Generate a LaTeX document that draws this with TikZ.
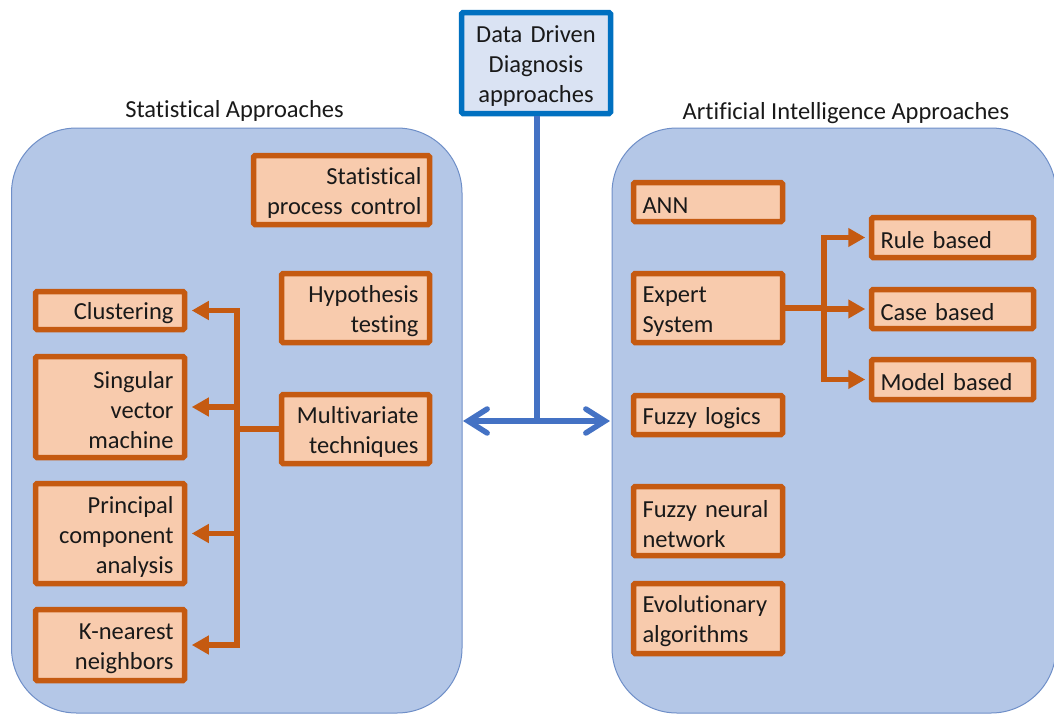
\documentclass[tikz,border=0pt]{standalone}
\usepackage{fontspec}
\setmainfont{Carlito}[Ligatures=NoCommon]
\usetikzlibrary{arrows.meta}
\definecolor{bigfill}{HTML}{B4C7E7}
\definecolor{bigdraw}{HTML}{6F8FC8}
\definecolor{ofill}{HTML}{F8CBAD}
\definecolor{odraw}{HTML}{C55A11}
\definecolor{tfill}{HTML}{DAE3F3}
\definecolor{tdraw}{HTML}{0070C0}
\definecolor{bline}{HTML}{4472C4}
\begin{document}
\begin{tikzpicture}[x=1pt,y=-1pt,
  txt/.style={font=\fontsize{24.5}{30}\selectfont, text=black!90},
  lowered/.style={execute at begin node={\rule{0pt}{23pt}}},
  bigbox/.style={fill=bigfill, draw=bigdraw, line width=1pt, rounded corners=65pt},
  obox/.style={txt, lowered, draw=odraw, fill=ofill, line width=5.5pt, rounded corners=1.5pt, inner sep=0pt},
  rbox/.style={obox, align=right},
  lbox/.style={obox, align=left},
  oline/.style={draw=odraw, line width=5.5pt},
  oarrow/.style={oline, -{Triangle[length=17pt,width=18pt]}},
  bluearrow/.style={draw=bline, line width=5.5pt, {Straight Barb[length=19pt,width=24pt,line cap=round]}-{Straight Barb[length=19pt,width=24pt,line cap=round]}}
]
\useasboundingbox (0,0) rectangle (1054,715);
% big containers
\path[bigbox] (11.5,128) rectangle (462,713);
\path[bigbox] (612,128) rectangle (1056,713);
% titles
\node[txt] (lt) at (234.5,111) {Statistical Approaches};
\node[txt] (rt) at (846,113) {Artificial Intelligence Approaches};
% top box
\node[txt, lowered, draw=tdraw, fill=tfill, line width=5.5pt, rounded corners=1.5pt, inner sep=0pt,
  minimum width=149pt, minimum height=101pt, text width=140pt, align=center] (top) at (536,63)
  {Data Driven\\Diagnosis\\approaches};
% left boxes
\node[rbox, minimum width=176pt, minimum height=69pt, text width=160pt] (spc) at (341.5,190) {Statistical\\process control};
\node[rbox, minimum width=148pt, minimum height=69pt, text width=126pt] (hyp) at (355.5,308) {Hypothesis\\testing};
\node[rbox, minimum width=148pt, minimum height=69pt, text width=126pt] (mvt) at (355.5,429) {Multivariate\\techniques};
\node[rbox, minimum width=149pt, minimum height=38pt, text width=127pt] (clu) at (110,310.5) {Clustering};
\node[rbox, minimum width=149pt, minimum height=101pt, text width=127pt] (svm) at (110,407) {Singular\\vector\\machine};
\node[rbox, minimum width=149pt, minimum height=100pt, text width=127pt] (pca) at (110,533.5) {Principal\\component\\analysis};
\node[rbox, minimum width=149pt, minimum height=71pt, text width=127pt] (knn) at (110,645) {K-nearest\\neighbors};
% right boxes
\node[lbox, minimum width=149pt, minimum height=39pt, text width=131pt] (ann) at (708,202) {ANN};
\node[lbox, minimum width=149pt, minimum height=69pt, text width=131pt] (exp) at (708,308) {Expert\\System};
\node[lbox, minimum width=149pt, minimum height=39pt, text width=131pt] (fzl) at (708,415) {Fuzzy logics};
\node[lbox, minimum width=149pt, minimum height=69pt, text width=131pt] (fnn) at (708,521) {Fuzzy neural\\network};
\node[lbox, minimum width=149pt, minimum height=70pt, text width=131pt] (evo) at (708,618.5) {Evolutionary\\algorithms};
\node[lbox, minimum width=162pt, minimum height=40pt, text width=144pt] (rule) at (952.5,237.5) {Rule based};
\node[lbox, minimum width=162pt, minimum height=39pt, text width=144pt] (case) at (952.5,309) {Case based};
\node[lbox, minimum width=162pt, minimum height=40pt, text width=144pt] (model) at (952.5,379.5) {Model based};
% blue connectors
\coordinate (hub) at (537,421);
\coordinate (la) at (463,421);
\coordinate (ra) at (610,421);
\draw[draw=bline, line width=5.5pt] (top.south -| hub) -- (hub);
\draw[bluearrow] (la) -- (ra);
% left orange connectors
\coordinate (ltrunk) at (237,0);
\draw[oline] (mvt.west) -- (mvt.west -| ltrunk);
\draw[oarrow] (ltrunk |- knn.east) -- (ltrunk |- clu.east) -- ([xshift=4.5pt]clu.east);
\draw[oarrow] (ltrunk |- clu.east) -- (ltrunk |- knn.east) -- ([xshift=4.5pt]knn.east);
\draw[oarrow] (ltrunk |- svm.east) -- ([xshift=4.5pt]svm.east);
\draw[oarrow] (ltrunk |- pca.east) -- ([xshift=4.5pt]pca.east);
% right orange connectors
\coordinate (rtrunk) at (824,0);
\draw[oline] (exp.east) -- (exp.east -| rtrunk);
\draw[oarrow] (rtrunk |- model.west) -- (rtrunk |- rule.west) -- ([xshift=-3.5pt]rule.west);
\draw[oarrow] (rtrunk |- rule.west) -- (rtrunk |- model.west) -- ([xshift=-3.5pt]model.west);
\draw[oarrow] (rtrunk |- case.west) -- ([xshift=-3.5pt]case.west);
\end{tikzpicture}
\end{document}
